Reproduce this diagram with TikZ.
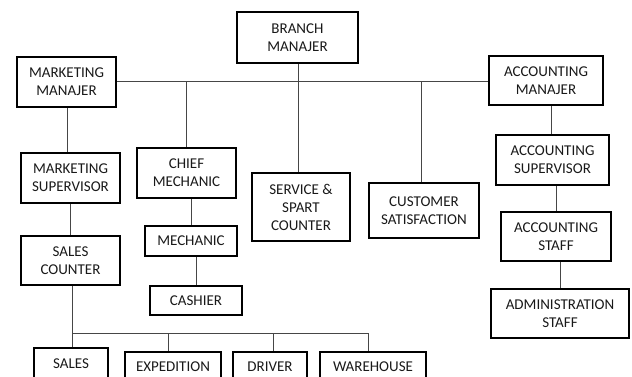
\documentclass[tikz,border=0pt]{standalone}
\usepackage{fontspec}
\setmainfont{Carlito}
\definecolor{linegray}{RGB}{70,70,70}
\definecolor{txt}{RGB}{25,25,25}
\begin{document}
\begin{tikzpicture}[x=1pt,y=-1pt,
  box/.style={draw=black,line width=2.9pt,align=center,inner sep=0pt,
    font=\fontsize{15}{18}\selectfont,text=txt},
  conn/.style={draw=linegray,line width=1pt}]
\useasboundingbox (0,0) rectangle (632,376);
\node[box,minimum width=121,minimum height=51] (branch) at (297.5,37.5) {BRANCH\\MANAJER};
\node[box,minimum width=99,minimum height=50] (mm) at (66.5,82) {MARKETING\\MANAJER};
\node[box,minimum width=114,minimum height=49] (am) at (546,80.5) {ACCOUNTING\\MANAJER};
\node[box,minimum width=99,minimum height=50] (ms) at (70.5,178) {MARKETING\\SUPERVISOR};
\node[box,minimum width=99,minimum height=50] (cm) at (186.5,173) {CHIEF\\MECHANIC};
\node[box,minimum width=98,minimum height=68] (ssc) at (301,207) {SERVICE \&\\SPART\\COUNTER};
\node[box,minimum width=110,minimum height=55] (cs) at (424,210.5) {CUSTOMER\\SATISFACTION};
\node[box,minimum width=113,minimum height=50] (as) at (552.5,160) {ACCOUNTING\\SUPERVISOR};
\node[box,minimum width=92,minimum height=30] (mech) at (191,241) {MECHANIC};
\node[box,minimum width=92,minimum height=29] (cash) at (196,300.5) {CASHIER};
\node[box,minimum width=99,minimum height=49] (sc) at (70.5,260.5) {SALES\\COUNTER};
\node[box,minimum width=110,minimum height=49] (ast) at (556,236.5) {ACCOUNTING\\STAFF};
\node[box,minimum width=138,minimum height=49] (adm) at (560,313.5) {ADMINISTRATION\\STAFF};
\node[box,minimum width=74,minimum height=32] (sales) at (71,364) {SALES};
\node[box,minimum width=96,minimum height=30] (exp) at (173,367) {EXPEDITION};
\node[box,minimum width=74,minimum height=30] (drv) at (270,367) {DRIVER};
\node[box,minimum width=106,minimum height=30] (wh) at (373,367) {WAREHOUSE};
\coordinate (bus) at (0,81);
\coordinate (bus2) at (0,333);
% top level
\draw[conn] (mm.east |- bus) -- (am.west |- bus);
\draw[conn] (branch.south -| 298,0) -- (298,0 |- ssc.north);
\draw[conn] (186,0 |- bus) -- (186,0 |- cm.north);
\draw[conn] (421,0 |- bus) -- (421,0 |- cs.north);
% marketing branch
\draw[conn] (67,0 |- mm.south) -- (67,0 |- ms.north);
\draw[conn] (70,0 |- ms.south) -- (70,0 |- sc.north);
\draw[conn] (72,0 |- sc.south) -- (72,0 |- bus2);
\draw[conn] (72,0 |- bus2) -- (368,0 |- bus2);
\draw[conn] (72,0 |- bus2) -- (72,0 |- sales.north);
\draw[conn] (168,0 |- bus2) -- (168,0 |- exp.north);
\draw[conn] (273,0 |- bus2) -- (273,0 |- drv.north);
\draw[conn] (368,0 |- bus2) -- (368,0 |- wh.north);
% mechanic branch
\draw[conn] (191,0 |- cm.south) -- (191,0 |- mech.north);
\draw[conn] (196,0 |- mech.south) -- (196,0 |- cash.north);
% accounting branch
\draw[conn] (551,0 |- am.south) -- (551,0 |- as.north);
\draw[conn] (556,0 |- as.south) -- (556,0 |- ast.north);
\draw[conn] (560,0 |- ast.south) -- (560,0 |- adm.north);
\end{tikzpicture}
\end{document}
